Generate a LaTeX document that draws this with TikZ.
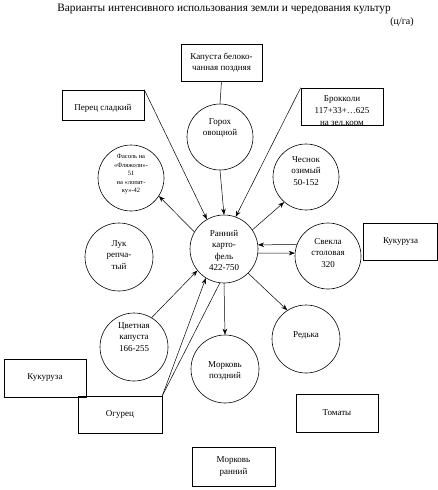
\documentclass[tikz,border=0pt]{standalone}
\usepackage{fontspec}
\setmainfont{Liberation Serif}
\usetikzlibrary{arrows.meta}
\begin{document}
\begin{tikzpicture}[x=1pt,y=-1pt,
  boxnode/.style={draw,line width=0.6pt,rectangle,inner sep=0pt,align=center,font=\fontsize{9}{11.5}\selectfont},
  circnode/.style={draw,line width=0.6pt,circle,inner sep=0pt},
  ctext/.style={align=center,inner sep=0pt,font=\fontsize{9}{11.5}\selectfont},
  conn/.style={line width=0.5pt},
  arr/.style={line width=0.5pt,-{Stealth[length=6pt,width=4.5pt]}}]
\useasboundingbox[fill=white] (0,0) rectangle (438,490);
% title
\node[inner sep=0pt,font=\fontsize{11.3}{13}\selectfont] (title) at (224,9) {Варианты интенсивного использования земли и чередования культур};
\node[inner sep=0pt,font=\fontsize{10}{12}\selectfont] (unit) at (402,22) {(ц/га)};
% boxes
\node[boxnode,minimum width=81pt,minimum height=37pt] (kap) at (221.5,62.5) {Капуста белоко-\\чанная поздняя};
\node[boxnode,minimum width=82pt,minimum height=30pt] (perec) at (103,105) {};
\node[ctext] (perecT) at (103,108) {Перец сладкий};
\node[boxnode,minimum width=82pt,minimum height=37pt] (broc) at (342,106.5) {};
\begin{scope}
\clip (301,88) rectangle (383,125);
\node[ctext,font=\fontsize{9}{12}\selectfont] (brocT) at (342,111.5) {Брокколи\\117+33+…625\\на зел.корм};
\end{scope}
\node[boxnode,minimum width=74pt,minimum height=37pt] (kukR) at (400.5,241.5) {Кукуруза};
\node[boxnode,minimum width=82pt,minimum height=38pt] (kukL) at (45,378) {Кукуруза};
\node[boxnode,minimum width=84pt,minimum height=37pt] (ogur) at (120,414.5) {Огурец};
\node[boxnode,minimum width=82pt,minimum height=38pt] (tom) at (337,413) {Томаты};
\node[boxnode,minimum width=83pt,minimum height=39pt] (morR) at (233.5,466.5) {Морковь\\ранний};
% circles
\node[circnode,minimum size=66pt] (goroh) at (220,137) {};
\node[ctext] (gorohT) at (220,128) {Горох\\овощной};
\node[circnode,minimum size=66pt] (fasol) at (131,178) {};
\node[ctext,font=\fontsize{6.5}{8.5}\selectfont] (fasolT) at (131,174.5) {Фасоль на\\«Фляжоли»-\\51\\на «лопат-\\ку»-42};
\node[circnode,minimum size=66pt] (chesnok) at (306,177) {};
\node[ctext] (chesnokT) at (306,171) {Чеснок\\озимый\\50-152};
\node[circnode,minimum size=68pt] (central) at (224,249) {};
\node[ctext] (centralT) at (224,250.5) {Ранний\\карто-\\фель\\422-750};
\node[circnode,minimum size=68pt] (luk) at (119,257) {};
\node[ctext] (lukT) at (119,255) {Лук\\репча-\\тый};
\node[circnode,minimum size=66pt] (svekla) at (328,256) {};
\node[ctext] (sveklaT) at (328,253) {Свекла\\столовая\\320};
\node[circnode,minimum size=68pt] (cvet) at (134,347) {};
\node[ctext] (cvetT) at (134,337) {Цветная\\капуста\\166-255};
\node[circnode,minimum size=68pt] (redka) at (306,339) {};
\node[ctext] (redkaT) at (306,335) {Редька};
\node[circnode,minimum size=68pt] (morP) at (225,369) {};
\node[ctext] (morPT) at (225,371) {Морковь\\поздний};
% connectors
\draw[conn] (kap.south) -- (goroh.north);
\draw[arr] (goroh.south) -- (central.north);
\draw[arr] (perec.north east) -- (central.120);
\draw[arr] (broc.north west) -- (central.70);
\draw[arr] (central.150) -- (fasol.-33);
\draw[arr] (central.34) -- (chesnok.229);
\draw[arr] (svekla.160) -- (central.7);
\draw[arr] (central.-7) -- (svekla.175);
\draw[arr] (central.-45) -- (redka.123);
\draw[arr] (cvet.59) -- (central.219);
\draw[arr] (ogur.north east) -- (central.238);
\draw[conn] (ogur.north east) -- (central.263);
\draw[arr] (central.south) -- (morP.north);
\end{tikzpicture}
\end{document}
